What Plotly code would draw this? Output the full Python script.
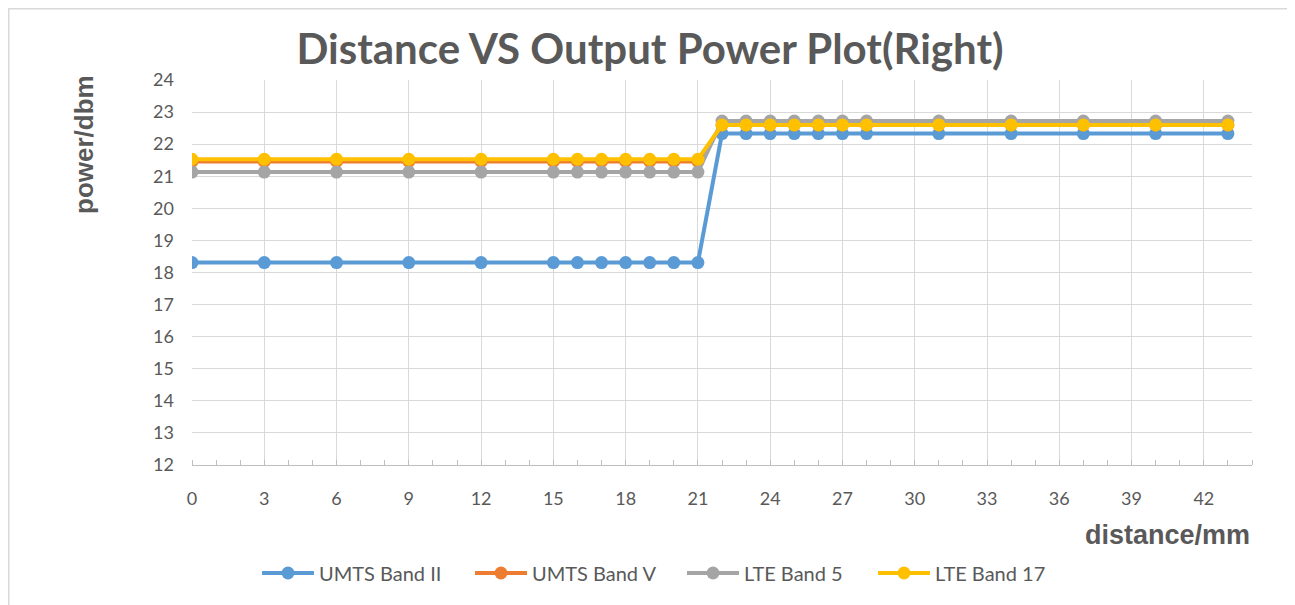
import plotly.graph_objects as go

distance = [0, 3, 6, 9, 12, 15, 16, 17, 18, 19, 20, 21,
            22, 23, 24, 25, 26, 27, 28, 31, 34, 37, 40, 43]
umts_band_ii = [18.31] * 12 + [22.33] * 12
umts_band_v = [21.46] * 12 + [22.60] * 12
lte_band_5 = [21.13] * 12 + [22.72] * 12
lte_band_17 = [21.53] * 12 + [22.60] * 12

series_names = ["UMTS Band II", "UMTS Band V", "LTE Band 5", "LTE Band 17"]
series_values = [umts_band_ii, umts_band_v, lte_band_5, lte_band_17]
series_colors = ["#5B9BD5", "#ED7D31", "#A5A5A5", "#FFC000"]

x_ticks = list(range(0, 43, 3))
y_ticks = list(range(12, 25))

font_main = "Lato, 'Open Sans', sans-serif"
font_axis = "'Liberation Sans', Arial, sans-serif"
grey = "#595959"

W, H = 1287, 597
L, R, T, B = 184, 43, 72, 140
PW = W - L - R   # 1060
PH = H - T - B   # 385


def px(xf):
    return (xf - L) / PW


def py(yf):
    return (H - B - yf) / PH


legend_ids = ["legend", "legend2", "legend3", "legend4"]
legend_left = [251, 464, 676, 867]   # figure-pixel left edge of each legend entry

fig = go.Figure()
for name, vals, col, lid in zip(series_names, series_values, series_colors, legend_ids):
    fig.add_trace(go.Scatter(
        x=distance, y=vals, name=name, mode="lines+markers",
        line=dict(color=col, width=4),
        marker=dict(color=col, size=13),
        legend=lid,
    ))

legend_layout = {}
for lid, lx in zip(legend_ids, legend_left):
    legend_layout[lid] = dict(
        orientation="h", x=px(lx - 2), xanchor="left",
        y=py(565), yanchor="middle",
        font=dict(family=font_main, size=20, color=grey),
        itemwidth=52, bgcolor="rgba(0,0,0,0)",
    )

fig.update_layout(
    width=W, height=H,
    margin=dict(l=L, r=R, t=T, b=B),
    paper_bgcolor="white", plot_bgcolor="white",
    showlegend=True,
    title=dict(text="<b>Distance VS Output Power Plot(Right)</b>",
               x=642 / W, xanchor="center",
               y=1 - 41 / H, yanchor="middle",
               font=dict(family=font_main, size=42, color=grey)),
    xaxis=dict(range=[0, 44], tickmode="array", tickvals=x_ticks,
               ticktext=[str(v) for v in x_ticks],
               showgrid=True, gridcolor="#D9D9D9", gridwidth=1,
               showline=True, linecolor="#BFBFBF", linewidth=1,
               zeroline=False, ticks="", ticklabelstandoff=17,
               tickfont=dict(family=font_main, size=18, color=grey),
               minor=dict(dtick=1, tick0=0, ticks="inside", ticklen=5,
                          tickcolor="#BFBFBF", showgrid=False)),
    yaxis=dict(range=[12, 24], tickmode="array", tickvals=y_ticks,
               ticktext=[str(v) for v in y_ticks],
               showgrid=True, gridcolor="#D9D9D9", gridwidth=1,
               showline=False, zeroline=False, ticks="",
               ticklabelstandoff=17,
               tickfont=dict(family=font_main, size=18, color=grey)),
    annotations=[
        dict(text="<b>power/dbm</b>", xref="paper", yref="paper",
             x=px(76), y=py(137),
             xanchor="center", yanchor="middle", textangle=-90,
             showarrow=False,
             font=dict(family=font_axis, size=26, color=grey)),
        dict(text="<b>distance/mm</b>", xref="paper", yref="paper",
             x=1.0, y=py(527),
             xanchor="right", yanchor="middle",
             showarrow=False,
             font=dict(family=font_axis, size=27, color=grey)),
    ],
    shapes=[
        dict(type="rect", xref="paper", yref="paper",
             x0=px(0.75), x1=px(1281),
             y0=py(H + 5), y1=py(0.75),
             line=dict(color="#D9D9D9", width=1.5), fillcolor="rgba(0,0,0,0)",
             layer="below"),
    ],
    **legend_layout,
)

fig.write_html("out.html")
